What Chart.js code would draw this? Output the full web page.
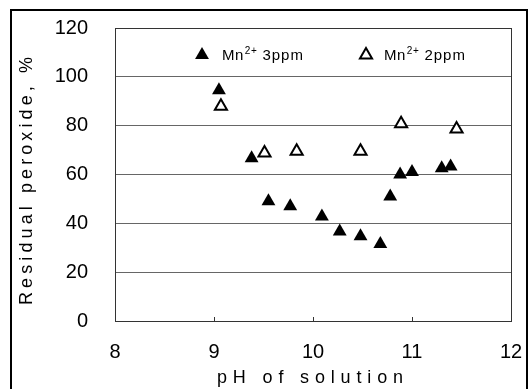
<!DOCTYPE html>
<html>
<head>
<meta charset="utf-8">
<script src="https://cdn.jsdelivr.net/npm/chart.js@4/dist/chart.umd.min.js"></script>
<style>
  html, body { margin: 0; padding: 0; background: #fff; }
  #wrap { width: 530px; height: 389px; position: relative; }
</style>
</head>
<body>
<div id="wrap"><canvas id="c" width="530" height="389"></canvas></div>
<script>
// pH values and residual peroxide (%) for Mn2+ 3 ppm (filled triangles)
const ph3 = [9.05, 9.38, 9.55, 9.77, 10.09, 10.27, 10.48, 10.68, 10.78, 10.88, 11.0, 11.3, 11.39];
const res3 = [94.5, 66.7, 49, 47, 42.8, 36.7, 34.7, 31.5, 51, 60, 61, 62.6, 63.3];
// pH values and residual peroxide (%) for Mn2+ 2 ppm (open triangles)
const ph2 = [9.07, 9.51, 9.835, 10.48, 10.89, 11.45];
const res2 = [88, 68.8, 69.5, 69.5, 80.8, 78.6];
const seriesNames = ["Mn2+ 3ppm", "Mn2+ 2ppm"];
const xTicks = [8, 9, 10, 11, 12];
const yTicks = [0, 20, 40, 60, 80, 100, 120];
const xTitle = "pH of solution";
const yTitle = "Residual peroxide, %";

const FONT = "'Liberation Sans', Arial, sans-serif";

function pts(xs, ys) { return xs.map((x, i) => ({ x: x, y: ys[i] })); }

function spacedText(ctx, text, x, y, targetWidth) {
  ctx.letterSpacing = '0px';
  const w = ctx.measureText(text).width;
  const n = text.length;
  const sp = Math.max(0, (targetWidth - w) / (n - 1));
  ctx.letterSpacing = sp + 'px';
  ctx.textAlign = 'left';
  ctx.fillText(text, x - targetWidth / 2, y);
  ctx.letterSpacing = '0px';
}

function triangle(ctx, x, y, r, filled) {
  ctx.beginPath();
  let a = 0;
  ctx.moveTo(x + Math.sin(a) * r, y - Math.cos(a) * r);
  a += 2 * Math.PI / 3;
  ctx.lineTo(x + Math.sin(a) * r, y - Math.cos(a) * r);
  a += 2 * Math.PI / 3;
  ctx.lineTo(x + Math.sin(a) * r, y - Math.cos(a) * r);
  ctx.closePath();
  if (filled) { ctx.fillStyle = '#000'; ctx.fill(); }
  else { ctx.fillStyle = '#fff'; ctx.fill(); ctx.lineWidth = 2; ctx.strokeStyle = '#000'; ctx.stroke(); }
}

function legendLabel(ctx, name, x, y) {
  const base = name.slice(0, 2);
  const sup = name.slice(2, 4);
  const rest = name.slice(4);
  ctx.textAlign = 'left';
  ctx.textBaseline = 'alphabetic';
  ctx.fillStyle = '#000';
  ctx.font = '15px ' + FONT;
  ctx.letterSpacing = '0.5px';
  ctx.fillText(base, x, y);
  let cx = x + ctx.measureText(base).width + 1;
  ctx.font = '10px ' + FONT;
  ctx.fillText(sup, cx, y - 6);
  cx += ctx.measureText(sup).width;
  ctx.font = '15px ' + FONT;
  ctx.letterSpacing = '1px';
  ctx.fillText(rest, cx, y);
  ctx.letterSpacing = '0px';
}

const decor = {
  id: 'decor',
  beforeDraw(chart) {
    const ctx = chart.ctx;
    ctx.save();
    ctx.fillStyle = '#fff';
    ctx.fillRect(0, 0, chart.width, chart.height);
    ctx.restore();
  },
  afterDatasetsDraw(chart) {
    const ctx = chart.ctx;
    const a = chart.chartArea;
    const xs = chart.scales.x;
    ctx.save();
    // plot border
    ctx.strokeStyle = '#333';
    ctx.lineWidth = 1;
    ctx.strokeRect(Math.round(a.left) + 0.5, Math.round(a.top) + 0.5, Math.round(a.right - a.left), Math.round(a.bottom - a.top));
    // small inward tick marks on x axis
    ctx.beginPath();
    xTicks.slice(1, -1).forEach(v => {
      const px = Math.round(xs.getPixelForValue(v)) + 0.5;
      ctx.moveTo(px, a.bottom);
      ctx.lineTo(px, a.bottom - 4);
    });
    ctx.stroke();
    // outer frame
    ctx.strokeStyle = '#000';
    ctx.lineWidth = 2;
    ctx.strokeRect(11, 10, 516, 400);
    // axis titles
    ctx.fillStyle = '#000';
    ctx.font = '18px ' + FONT;
    ctx.textBaseline = 'alphabetic';
    spacedText(ctx, xTitle, 310, 383, 186);
    ctx.save();
    ctx.translate(32, 181);
    ctx.rotate(-Math.PI / 2);
    spacedText(ctx, yTitle, 0, 0, 248);
    ctx.restore();
    // legend
    triangle(ctx, 202, 55, 8, true);
    legendLabel(ctx, seriesNames[0], 222, 60);
    triangle(ctx, 366, 55, 7, false);
    legendLabel(ctx, seriesNames[1], 384, 60);
    ctx.restore();
  }
};

new Chart(document.getElementById('c'), {
  type: 'scatter',
  data: {
    datasets: [
      {
        label: seriesNames[1],
        data: pts(ph2, res2),
        pointStyle: 'triangle',
        pointRadius: 7,
        borderWidth: 2,
        borderColor: '#000',
        backgroundColor: '#fff'
      },
      {
        label: seriesNames[0],
        data: pts(ph3, res3),
        pointStyle: 'triangle',
        pointRadius: 8,
        borderWidth: 0,
        borderColor: '#000',
        backgroundColor: '#000'
      }
    ]
  },
  options: {
    responsive: false,
    animation: false,
    devicePixelRatio: 1,
    layout: { padding: { left: 0, top: 28, right: 19, bottom: 0 } },
    plugins: { legend: { display: false }, tooltip: { enabled: false } },
    scales: {
      x: {
        type: 'linear',
        min: 8, max: 12,
        afterBuildTicks(s) { s.ticks = xTicks.map(v => ({ value: v })); },
        afterFit(s) { s.height = 68; s.paddingLeft = 0; s.paddingRight = 0; },
        grid: { display: false, drawTicks: false },
        border: { display: false },
        ticks: { padding: 19, color: '#000', font: { size: 20, family: FONT } }
      },
      y: {
        type: 'linear',
        min: 0, max: 120,
        afterBuildTicks(s) { s.ticks = yTicks.map(v => ({ value: v })); },
        afterFit(s) { s.width = 115; s.paddingTop = 0; s.paddingBottom = 0; },
        grid: {
          drawTicks: false,
          color: (c) => (c.tick && (c.tick.value === 0 || c.tick.value === 120)) ? 'rgba(0,0,0,0)' : '#666',
          lineWidth: 1
        },
        border: { display: false },
        ticks: { padding: 27, color: '#000', font: { size: 20, family: FONT } }
      }
    }
  },
  plugins: [decor]
});
</script>
</body>
</html>
